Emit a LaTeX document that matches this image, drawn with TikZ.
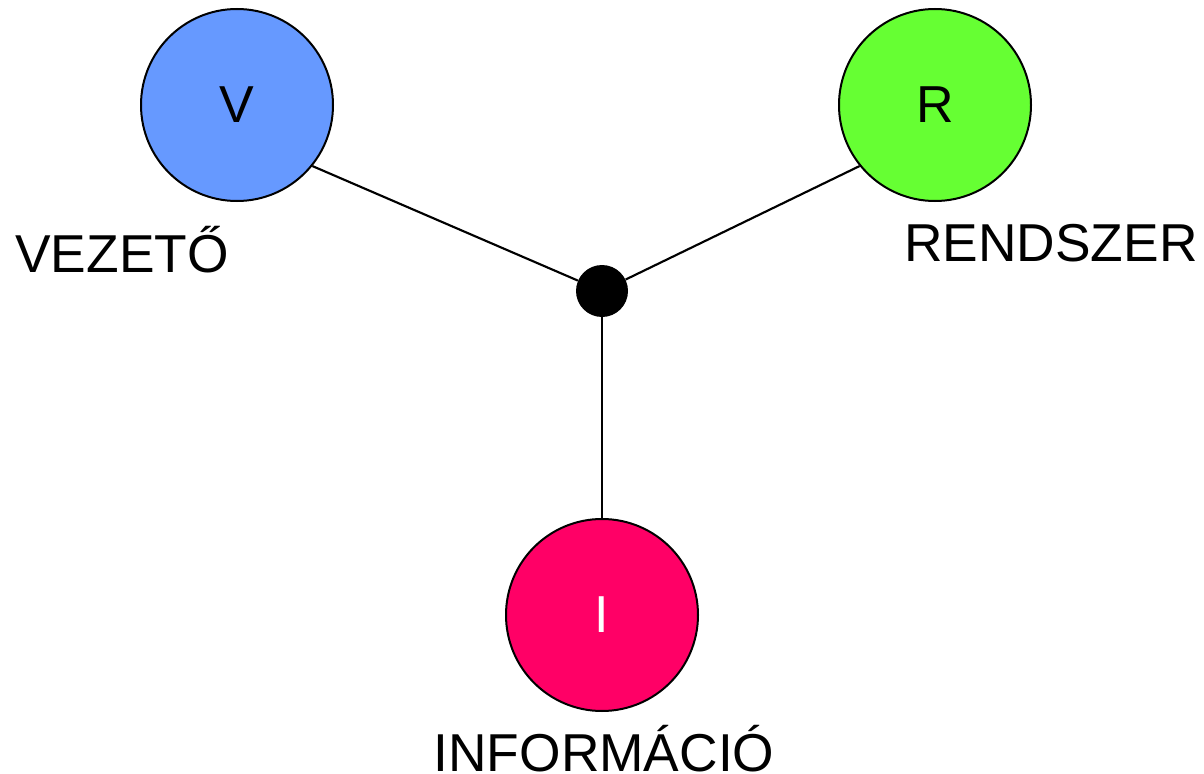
\documentclass[tikz,border=0pt]{standalone}
\usepackage{fontspec}
\setmainfont{Liberation Sans}
\definecolor{vblue}{HTML}{6699FF}
\definecolor{rgreen}{HTML}{66FF33}
\definecolor{ipink}{HTML}{FF0066}
\begin{document}
\begin{tikzpicture}[x=0.75pt,y=-0.75pt,
  bubble/.style={circle,draw=black,line width=1.5pt,minimum size=144pt,inner sep=0pt,font=\fontsize{39}{44}\selectfont},
  hub/.style={circle,fill=black,minimum size=39pt,inner sep=0pt},
  caption/.style={font=\fontsize{40}{44}\selectfont,inner sep=0pt},
  link/.style={line width=1.6pt}]
\useasboundingbox (0,0) rectangle (1204,774);
\node[bubble,fill=vblue] (v) at (237,105) {V};
\node[bubble,fill=rgreen] (r) at (935,105) {R};
\node[bubble,fill=ipink,text=white] (i) at (602,615) {I};
\node[hub] (h) at (602,291) {};
\draw[link] (v.-39) -- (h);
\draw[link] (r.-141) -- (h);
\draw[link] (i.north) -- (h);
\node[caption] (vl) at (122,250) {VEZETŐ};
\node[caption] (rl) at (1051,243) {RENDSZER};
\node[caption] (il) at (604,749) {INFORMÁCIÓ};
\end{tikzpicture}
\end{document}
